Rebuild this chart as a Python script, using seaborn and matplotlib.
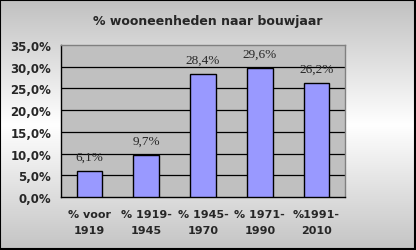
import numpy as np
import pandas as pd
import matplotlib
matplotlib.use("Agg")
import matplotlib.pyplot as plt
import seaborn as sns
from matplotlib.colors import LinearSegmentedColormap

categories = ["% voor\n1919", "% 1919-\n1945", "% 1945-\n1970", "% 1971-\n1990", "%1991-\n2010"]
values = [6.1, 9.7, 28.4, 29.6, 26.2]
value_labels = ["6,1%", "9,7%", "28,4%", "29,6%", "26,2%"]
yticks = [0, 5, 10, 15, 20, 25, 30, 35]
ytick_labels = ["0,0%", "5,0%", "10,0%", "15,0%", "20,0%", "25,0%", "30,0%", "35,0%"]
title = "% wooneenheden naar bouwjaar"

df = pd.DataFrame({"cat": categories, "val": values})

sns.set_style("white")
plt.rcParams['font.family'] = ['DejaVu Sans']

fig = plt.figure(figsize=(4.16, 2.51), dpi=100)

# background gradient
bg = fig.add_axes([0, 0, 1, 1], zorder=-10)
cmap = LinearSegmentedColormap.from_list("g", [(0, "#c0c0c0"), (0.5, "#ffffff"), (1, "#c4c4c4")])
grad = np.linspace(0, 1, 256).reshape(-1, 1)
bg.imshow(grad, aspect="auto", cmap=cmap, extent=[0, 1, 0, 1], origin="upper")
bg.set_xlim(0, 1); bg.set_ylim(0, 1)
bg.axis("off")
bg.add_patch(plt.Rectangle((0.001, 0.002), 0.997, 0.995, fill=False, edgecolor="black", linewidth=1.5, transform=bg.transAxes))

W, H = 416, 251
x0, x1, yt, yb = 61, 345, 46, 198
ax = fig.add_axes([x0 / W, 1 - yb / H, (x1 - x0) / W, (yb - yt) / H])
ax.set_facecolor("#c0c0c0")

sns.barplot(data=df, x="cat", y="val", ax=ax, color="#9999ff", width=0.45,
            edgecolor="black", linewidth=1.0, saturation=1, zorder=3)

ax.set_ylim(0, 35)
ax.set_xlim(-0.5, 4.5)
ax.set_yticks(yticks)
ax.set_yticklabels(ytick_labels, fontsize=8.5, fontweight="bold")
for y in yticks[1:-1]:
    ax.axhline(y, color="black", linewidth=0.9, zorder=1)

ax.set_xticks([-0.5, 0.5, 1.5, 2.5, 3.5, 4.5], minor=False)
ax.set_xticklabels([])
ax.set_xticks(range(len(categories)), minor=True)
ax.set_xticklabels(categories, minor=True, fontsize=8, fontweight="bold", linespacing=1.7)
ax.tick_params(axis="x", which="minor", length=0, pad=9)
ax.tick_params(axis="x", which="major", length=4, width=1, color="black", direction="out")
ax.tick_params(axis="y", length=4, width=1, color="black", direction="out", pad=3)
ax.set_xlabel("")
ax.set_ylabel("")

for side in ["left", "bottom"]:
    ax.spines[side].set_color("black")
    ax.spines[side].set_linewidth(1.0)
for side in ["top", "right"]:
    ax.spines[side].set_color("#808080")
    ax.spines[side].set_linewidth(1.0)

for i, (v, lab) in enumerate(zip(values, value_labels)):
    ax.text(i, v + 1.9, lab, ha="center", va="bottom", fontsize=9.5,
            family="Liberation Serif", zorder=5)

fig.text(208 / W, 1 - 21 / H, title, ha="center", va="center", fontsize=9, fontweight="bold")

fig.savefig("out.png", dpi=100)
